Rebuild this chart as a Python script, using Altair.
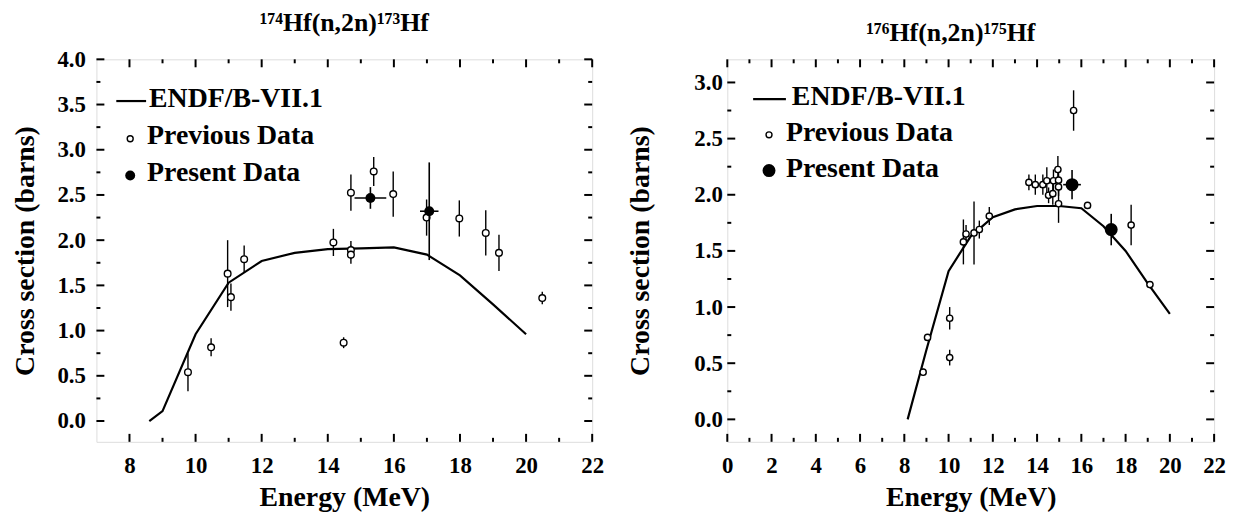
import altair as alt
import pandas as pd

FONT = "'Liberation Serif', 'Times New Roman', Times, 'DejaVu Serif', serif"

# ---------------- Left panel: 174Hf(n,2n)173Hf ----------------
L_TITLE = "¹⁷⁴Hf(n,2n)¹⁷³Hf"
L_endf_E = [8.6, 9.0, 10.0, 11.0, 12.0, 13.0, 14.0, 15.0, 16.0, 17.0, 18.0, 19.0, 20.0]
L_endf_S = [0.0, 0.11, 0.96, 1.53, 1.77, 1.86, 1.90, 1.91, 1.92, 1.84, 1.61, 1.29, 0.96]
L_prev_E = [9.77, 10.47, 10.97, 11.07, 11.47, 14.17, 14.48, 14.70, 14.70, 14.70, 15.39, 15.98, 16.99, 17.98, 18.78, 19.18, 20.49]
L_prev_S = [0.54, 0.815, 1.63, 1.37, 1.79, 1.975, 0.866, 1.89, 1.84, 2.525, 2.76, 2.51, 2.25, 2.24, 2.08, 1.86, 1.36]
L_prev_err = [0.21, 0.10, 0.37, 0.15, 0.15, 0.15, 0.06, 0.10, 0.10, 0.20, 0.16, 0.25, 0.20, 0.20, 0.25, 0.20, 0.07]
L_pres_E = [15.29, 17.07]
L_pres_S = [2.467, 2.32]
L_pres_yerr = [0.12, 0.54]
L_pres_xerr = [0.48, 0.28]
L_xdom = [7, 22]
L_ydom = [-0.23, 4.0]
L_xlabels = [8, 10, 12, 14, 16, 18, 20, 22]
L_xminor = [9, 11, 13, 15, 17, 19, 21]
L_ylabels = [0.0, 0.5, 1.0, 1.5, 2.0, 2.5, 3.0, 3.5, 4.0]
L_yminor = [0.25, 0.75, 1.25, 1.75, 2.25, 2.75, 3.25, 3.75]

# ---------------- Right panel: 176Hf(n,2n)175Hf ----------------
R_TITLE = "¹⁷⁶Hf(n,2n)¹⁷⁵Hf"
R_endf_E = [8.15, 9.0, 10.0, 11.0, 12.0, 13.0, 14.0, 15.0, 16.0, 17.0, 18.0, 19.0, 20.0]
R_endf_S = [0.0, 0.62, 1.32, 1.63, 1.80, 1.87, 1.90, 1.90, 1.88, 1.72, 1.50, 1.21, 0.94]
R_prev_E = [8.85, 9.05, 10.05, 10.05, 10.67, 10.79, 11.15, 11.39, 11.84,
            13.63, 13.92, 14.26, 14.44, 14.52, 14.71, 14.74, 14.94, 14.97, 14.97, 14.97,
            15.65, 16.28, 18.25, 19.1]
R_prev_S = [0.42, 0.73, 0.90, 0.55, 1.58, 1.65, 1.66, 1.69, 1.81,
            2.11, 2.09, 2.09, 2.125, 1.995, 2.01, 2.125, 2.225, 2.13, 2.07, 1.92,
            2.75, 1.905, 1.73, 1.20]
R_prev_err = [0.03, 0.03, 0.10, 0.07, 0.20, 0.08, 0.28, 0.08, 0.08,
              0.07, 0.09, 0.09, 0.12, 0.07, 0.10, 0.10, 0.12, 0.10, 0.08, 0.17,
              0.18, 0.02, 0.18, 0.02]
R_pres_E = [15.58, 17.35]
R_pres_S = [2.09, 1.69]
R_pres_yerr = [0.13, 0.14]
R_pres_xerr = [0.40, 0.15]
R_xdom = [0, 22]
R_ydom = [-0.2, 3.206]
R_xlabels = [0, 2, 4, 6, 8, 10, 12, 14, 16, 18, 20, 22]
R_xminor = [1, 3, 5, 7, 9, 11, 13, 15, 17, 19, 21]
R_ylabels = [0.0, 0.5, 1.0, 1.5, 2.0, 2.5, 3.0]
R_yminor = [0.25, 0.75, 1.25, 1.75, 2.25, 2.75]

LEG_LABELS = ["ENDF/B-VII.1", "Previous Data", "Present Data"]


def panel(title, endf_E, endf_S, prev_E, prev_S, prev_err, pres_E, pres_S, pres_yerr, pres_xerr,
          xdom, ydom, xlabels, xminor, ylabels, yminor, W, H,
          title_dx, title_offset, ylabpad, ytitlepad, prev_size, pres_size, leg):
    xs = alt.Scale(domain=xdom, nice=False, zero=False)
    ys = alt.Scale(domain=ydom, nice=False, zero=False)
    xax = alt.Axis(values=xlabels, ticks=False, domain=False, grid=False, labelFlush=False,
                   labelFont=FONT, labelFontSize=23, labelFontWeight="bold", labelColor="black",
                   labelPadding=12.5, titleFont=FONT, titleFontSize=28, titleFontWeight="bold",
                   titleColor="black", titlePadding=7, format="d")
    yax = alt.Axis(values=ylabels, ticks=False, domain=False, grid=False, labelFlush=False,
                   labelFont=FONT, labelFontSize=23, labelFontWeight="bold", labelColor="black",
                   labelPadding=ylabpad, titleFont=FONT, titleFontSize=28, titleFontWeight="bold",
                   titleColor="black", titlePadding=ytitlepad, format=".1f")
    XT = "Energy (MeV)"
    YT = "Cross section (barns)"

    def X(f):
        return alt.X(f, type="quantitative", scale=xs, axis=xax, title=XT)

    def Y(f):
        return alt.Y(f, type="quantitative", scale=ys, axis=yax, title=YT)

    endf = pd.DataFrame({"E": endf_E, "S": endf_S})
    prev = pd.DataFrame({"E": prev_E, "S": prev_S, "err": prev_err})
    prev["lo"] = prev["S"] - prev["err"]
    prev["hi"] = prev["S"] + prev["err"]
    pres = pd.DataFrame({"E": pres_E, "S": pres_S, "ye": pres_yerr, "xe": pres_xerr})
    pres["lo"] = pres["S"] - pres["ye"]
    pres["hi"] = pres["S"] + pres["ye"]
    pres["xl"] = pres["E"] - pres["xe"]
    pres["xh"] = pres["E"] + pres["xe"]

    line = alt.Chart(endf).mark_line(color="black", strokeWidth=2.2).encode(x=X("E"), y=Y("S"))
    pbars = alt.Chart(prev).mark_rule(color="black", strokeWidth=1.4).encode(
        x=X("E"), y=Y("lo"), y2=alt.Y2("hi"))
    ppts = alt.Chart(prev).mark_point(shape="circle", fill="white", fillOpacity=1, stroke="black",
                                      strokeWidth=1.4, size=prev_size, opacity=1).encode(x=X("E"), y=Y("S"))
    qy = alt.Chart(pres).mark_rule(color="black", strokeWidth=1.6).encode(
        x=X("E"), y=Y("lo"), y2=alt.Y2("hi"))
    qx = alt.Chart(pres).mark_rule(color="black", strokeWidth=1.6).encode(
        x=X("xl"), x2=alt.X2("xh"), y=Y("S"))
    qpts = alt.Chart(pres).mark_circle(color="black", size=pres_size, opacity=1).encode(x=X("E"), y=Y("S"))

    tk = []
    ymj = pd.DataFrame({"S": ylabels})
    ymn = pd.DataFrame({"S": yminor})
    xmj = pd.DataFrame({"E": xlabels})
    xmn = pd.DataFrame({"E": xminor})
    for df, ln in ((ymj, 8), (ymn, 4)):
        tk.append(alt.Chart(df).mark_rule(color="black", strokeWidth=2).encode(
            y=Y("S"), x=alt.value(0), x2=alt.value(ln)))
        tk.append(alt.Chart(df).mark_rule(color="black", strokeWidth=2).encode(
            y=Y("S"), x=alt.value(W - ln), x2=alt.value(W)))
    for df, ln in ((xmj, 8), (xmn, 4)):
        tk.append(alt.Chart(df).mark_rule(color="black", strokeWidth=2).encode(
            x=X("E"), y=alt.value(H), y2=alt.value(H - ln)))
        tk.append(alt.Chart(df).mark_rule(color="black", strokeWidth=2).encode(
            x=X("E"), y=alt.value(0), y2=alt.value(ln)))

    # legend (inside the frame, top-left)
    lx0, lx1, ly, tx0, tx, cx, cy1, cy2, ty0, ty1, ty2, psz, qsz = leg
    one = pd.DataFrame({"k": [0]})

    def legtext(xv, yv, label):
        return alt.Chart(one).mark_text(font=FONT, fontSize=28, fontWeight="bold", align="left",
                                        baseline="middle", color="black").encode(
            x=alt.value(xv), y=alt.value(yv), text=alt.value(label))

    lg = [
        alt.Chart(one).mark_rule(color="black", strokeWidth=2.2).encode(
            x=alt.value(lx0), x2=alt.value(lx1), y=alt.value(ly)),
        legtext(tx0, ty0, LEG_LABELS[0]),
        alt.Chart(one).mark_point(shape="circle", fill="white", fillOpacity=1, stroke="black",
                                  strokeWidth=1.4, size=psz, opacity=1).encode(
            x=alt.value(cx), y=alt.value(cy1)),
        legtext(tx, ty1, LEG_LABELS[1]),
        alt.Chart(one).mark_circle(color="black", size=qsz, opacity=1).encode(
            x=alt.value(cx), y=alt.value(cy2)),
        legtext(tx, ty2, LEG_LABELS[2]),
    ]

    return alt.layer(line, pbars, ppts, qy, qx, qpts, *tk, *lg).properties(
        width=W, height=H,
        title=alt.TitleParams(title, font=FONT, fontSize=26, fontWeight="bold", color="black",
                              anchor="middle", dx=title_dx, offset=title_offset),
    )


left = panel(L_TITLE, L_endf_E, L_endf_S, L_prev_E, L_prev_S, L_prev_err, L_pres_E, L_pres_S,
             L_pres_yerr, L_pres_xerr, L_xdom, L_ydom, L_xlabels, L_xminor, L_ylabels, L_yminor,
             499, 385, 0, 12.5, 11, 18, 45, 100,
             (20, 50, 42, 53, 51, 34, 80, 117, 40, 77, 114, 36, 100))
right = panel(R_TITLE, R_endf_E, R_endf_S, R_prev_E, R_prev_S, R_prev_err, R_pres_E, R_pres_S,
              R_pres_yerr, R_pres_xerr, R_xdom, R_ydom, R_xlabels, R_xminor, R_ylabels, R_yminor,
              490, 385, -20, 12, 5, 40, 40, 170,
              (26, 59, 40, 65, 59, 42, 76, 112, 38, 74, 110, 36, 170))

chart = alt.hconcat(left, right, spacing=21).properties(
    padding={"left": 2, "top": 0, "right": 5, "bottom": 0}
).configure_view(stroke="black", strokeWidth=2.4).configure(background="white")

chart.save("out.html", embed_options={"renderer": "svg", "actions": False})
